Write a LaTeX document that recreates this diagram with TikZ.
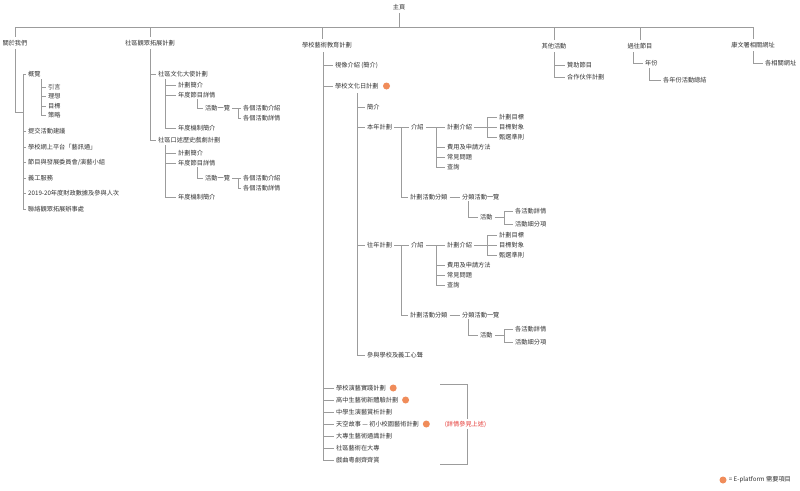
\documentclass[tikz,border=0pt]{standalone}
\usepackage{fontspec}
\setmainfont{Noto Sans CJK TC}
\usetikzlibrary{positioning}

\definecolor{ink}{HTML}{333333}
\definecolor{wirecol}{HTML}{9C9C9C}
\definecolor{eplat}{HTML}{F08C5A}
\definecolor{note}{HTML}{E53935}

\tikzset{
  lbl/.style={anchor=west, inner xsep=2pt, inner ysep=1pt, text=ink,
    font=\fontsize{6.2}{7}\selectfont},
  head/.style={anchor=center, inner xsep=2pt, inner ysep=3pt, text=ink,
    font=\fontsize{6.2}{7}\selectfont},
  wire/.style={draw=wirecol, line width=0.6pt},
  edot/.style={circle, fill=eplat, inner sep=0pt, minimum size=7pt},
}

% One yearly plan block (this year / past years) of the school culture day scheme
\newcommand{\yearblock}[3]{%
  \begin{scope}[yshift=-#3pt]
    \node[lbl] (#1)  at (365,127) {#2};
    \node[lbl] (#1i) at (409,127) {介紹};
    \coordinate (#1s)  at (401,127);
    \node[lbl] (#1p) at (445,127) {計劃介紹};
    \coordinate (#1ps) at (436,127);
    \node[lbl] (#1f) at (445,147) {費用及申請方法};
    \node[lbl] (#1q) at (445,157) {常見問題};
    \node[lbl] (#1c) at (445,167) {查詢};
    \coordinate (#1t)  at (487,127);
    \node[lbl] (#1g) at (497,117) {計劃目標};
    \node[lbl] (#1o) at (497,127) {目標對象};
    \node[lbl] (#1r) at (497,137) {甄選準則};
    \node[lbl] (#1k) at (408,197) {計劃活動分類};
    \node[lbl] (#1l) at (460,197) {分類活動一覽};
    \coordinate (#1ls) at (468,201);
    \node[lbl] (#1a) at (478,217) {活動};
    \coordinate (#1as) at (504,217);
    \node[lbl] (#1d) at (513,211) {各活動詳情};
    \node[lbl] (#1n) at (513,224) {活動細分項};
  \end{scope}
  \draw[wire] (#1.east) -- (#1i.west);
  \draw[wire] (#1s) |- (#1k.west);
  \draw[wire] (#1i.east) -- (#1p.west);
  \foreach \c in {f,q,c} \draw[wire] (#1ps) |- (#1\c.west);
  \draw[wire] (#1p.east) -- (#1t);
  \foreach \c in {g,o,r} \draw[wire] (#1t) |- (#1\c.west);
  \draw[wire] (#1k.east) -- (#1l.west);
  \draw[wire] (#1ls) |- (#1a.west);
  \draw[wire] (#1a.east) -- (#1as);
  \foreach \c in {d,n} \draw[wire] (#1as) |- (#1\c.west);
}

\begin{document}
\begin{tikzpicture}[x=1pt,y=-1pt]
\useasboundingbox[fill=white] (0,0) rectangle (800,490);

% ---- root and first level ----
\node[head] (root) at (399,7) {主頁};
\coordinate (bus) at (399,27);
\node[head] (about)  at (15,43)  {關於我們};
\node[head] (comm)   at (150,43) {社區觀眾拓展計劃};
\node[head] (school) at (327,45) {學校藝術教育計劃};
\node[head] (other)  at (554,46) {其他活動};
\node[head] (past)   at (640,46) {過往節目};
\node[head] (lcsd)   at (753,45) {康文署相關網址};

\draw[wire] (root.south) -- (bus);
\foreach \n in {about,comm,other,past,lcsd} \draw[wire] (bus) -| (\n.north);
\draw[wire] (bus) -| ([xshift=-5pt]school.north);

% ---- about us ----
\coordinate (aboutJoin)  at (23,112);
\coordinate (aboutSpine) at (23,74);
\draw[wire] (about.south) |- (aboutJoin);
\node[lbl] (ov)  at (26,74)  {概覽};
\node[lbl] (ab2) at (26,131) {提交活動建議};
\node[lbl] (ab3) at (26,147) {學校網上平台「藝訊通」};
\node[lbl] (ab4) at (26,162) {節目與發展委員會/演藝小組};
\node[lbl] (ab5) at (26,178) {義工服務};
\node[lbl] (ab6) at (26,193) {2019-20年度財政數據及參與人次};
\node[lbl] (ab7) at (26,209) {聯絡觀眾拓展辦事處};
\foreach \c in {ov,ab2,ab3,ab4,ab5,ab6,ab7} \draw[wire] (aboutSpine) |- (\c.west);

\coordinate (ovSpine) at (41,79);
\node[lbl] (ov1) at (46,87)  {引言};
\node[lbl] (ov2) at (46,96)  {理想};
\node[lbl] (ov3) at (46,106) {目標};
\node[lbl] (ov4) at (46,115) {策略};
\foreach \c in {ov1,ov2,ov3,ov4} \draw[wire] (ovSpine) |- (\c.west);

% ---- community audience building ----
\node[lbl] (ca) at (156,74)  {社區文化大使計劃};
\node[lbl] (cb) at (156,140) {社區口述歷史戲劇計劃};
\draw[wire] (comm.south) |- (ca.west);
\draw[wire] (comm.south) |- (cb.west);

\coordinate (caSpine) at (165,79);
\node[lbl] (ca1) at (176,85)  {計劃簡介};
\node[lbl] (ca2) at (176,95)  {年度節目詳情};
\node[lbl] (ca6) at (176,128) {年度機制簡介};
\foreach \c in {ca1,ca2,ca6} \draw[wire] (caSpine) |- (\c.west);
\coordinate (ca2Spine) at (197,99);
\node[lbl] (ca3) at (203,108) {活動一覽};
\draw[wire] (ca2Spine) |- (ca3.west);
\coordinate (ca3Fork) at (238,108);
\node[lbl] (ca4) at (241,108) {各個活動介紹};
\node[lbl] (ca5) at (241,118) {各個活動詳情};
\draw[wire] (ca3.east) -- (ca3Fork);
\foreach \c in {ca4,ca5} \draw[wire] (ca3Fork) |- (\c.west);

\coordinate (cbSpine) at (165,145);
\node[lbl] (cb1) at (176,153) {計劃簡介};
\node[lbl] (cb2) at (176,163) {年度節目詳情};
\node[lbl] (cb6) at (176,197) {年度機制簡介};
\foreach \c in {cb1,cb2,cb6} \draw[wire] (cbSpine) |- (\c.west);
\coordinate (cb2Spine) at (197,167);
\node[lbl] (cb3) at (203,178) {活動一覽};
\draw[wire] (cb2Spine) |- (cb3.west);
\coordinate (cb3Fork) at (238,178);
\node[lbl] (cb4) at (241,178) {各個活動介紹};
\node[lbl] (cb5) at (241,188) {各個活動詳情};
\draw[wire] (cb3.east) -- (cb3Fork);
\foreach \c in {cb4,cb5} \draw[wire] (cb3Fork) |- (\c.west);

% ---- school arts education ----
\coordinate (schoolSpine) at (323,52);
\node[lbl] (sv)  at (333,65)  {視像介紹 (簡介)};
\node[lbl] (sd)  at (333,86)  {學校文化日計劃};
\node[lbl] (sl1) at (334,388) {學校演藝實踐計劃};
\node[lbl] (sl2) at (334,400) {高中生藝術新體驗計劃};
\node[lbl] (sl3) at (334,412) {中學生演藝賞析計劃};
\node[lbl] (sl4) at (334,424) {天空故事 — 初小校園藝術計劃};
\node[lbl] (sl5) at (334,436) {大專生藝術通識計劃};
\node[lbl] (sl6) at (334,448) {社區藝術在大專};
\node[lbl] (sl7) at (334,460) {戲曲粵劇齊齊賞};
\foreach \c in {sv,sd,sl1,sl2,sl3,sl4,sl5,sl6,sl7} \draw[wire] (schoolSpine) |- (\c.west);

\node[edot, right=2pt of sd]    (sdDot)  {};
\node[edot, right=1.5pt of sl1] (sl1Dot) {};
\node[edot, right=1.5pt of sl2] (sl2Dot) {};
\node[edot, right=1.5pt of sl4] (sl4Dot) {};

\coordinate (sdSpine) at (357,93);
\node[lbl] (sd1) at (365,107) {簡介};
\yearblock{ty}{本年計劃}{0}
\yearblock{py}{往年計劃}{118}
\node[lbl] (sd9) at (365,355) {參與學校及義工心聲};
\foreach \c in {sd1,ty,py,sd9} \draw[wire] (sdSpine) |- (\c.west);

% bracket over the other school schemes
\coordinate (brTop) at (440,384);
\coordinate (brBot) at (440,464);
\draw[wire] (brTop) -- ++(27,0) |- (brBot);
\node[head, text=note, fill=white, inner ysep=2pt] (seeAbove) at (465.5,424) {(詳情參見上述)};

% ---- other activities ----
\node[lbl] (ot1) at (565,65) {贊助節目};
\node[lbl] (ot2) at (565,77) {合作伙伴計劃};
\foreach \c in {ot1,ot2} \draw[wire] (other.south) |- (\c.west);

% ---- past programmes ----
\coordinate (pastSpine) at (633,52);
\node[lbl] (pa1) at (643,63) {年份};
\draw[wire] (pastSpine) |- (pa1.west);
\coordinate (pa1Spine) at (649,68);
\node[lbl] (pa2) at (661,80) {各年份活動總結};
\draw[wire] (pa1Spine) |- (pa2.west);

% ---- LCSD links ----
\node[lbl] (lc1) at (763,63) {各相關網址};
\draw[wire] (lcsd.south) |- (lc1.west);

% ---- legend ----
\node[edot] (keyDot) at (723,480) {};
\node[lbl, right=0pt of keyDot] (keyText) {= E-platform 需要項目};

\end{tikzpicture}
\end{document}
